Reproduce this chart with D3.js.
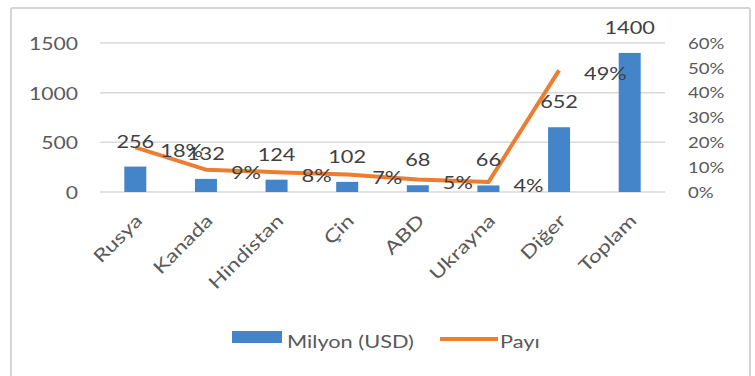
<!DOCTYPE html>
<html>
<head>
<meta charset="utf-8">
<script src="https://cdn.jsdelivr.net/npm/d3@7"></script>
<style>
  html, body { margin: 0; padding: 0; background: #ffffff; }
  svg { display: block; }
  text { font-family: Lato, "Open Sans", sans-serif; }
</style>
</head>
<body>
<svg id="chart" width="755" height="376"></svg>
<script>
// Categories and series
const categories = ["Rusya", "Kanada", "Hindistan", "Çin", "ABD", "Ukrayna", "Diğer", "Toplam"];
const milyonUSD = [256, 132, 124, 102, 68, 66, 652, 1400];
const payi = [0.18, 0.09, 0.08, 0.07, 0.05, 0.04, 0.49]; // no share point for "Toplam"
const leftTicks = [0, 500, 1000, 1500];
const rightTicks = [0, 0.1, 0.2, 0.3, 0.4, 0.5, 0.6];
const seriesNames = ["Milyon (USD)", "Payı"];

const BLUE = "#4385c8";
const ORANGE = "#ed7d31";
const GRID = "#d9d9d9";
const TEXT = "#595959";
const LABEL = "#404040";
const SX = 1.28; // horizontal widening of glyphs

const svg = d3.select("#chart");

// Outer chart frame
svg.append("rect")
  .attr("x", 11).attr("y", 8)
  .attr("width", 739).attr("height", 390)
  .attr("rx", 2)
  .attr("fill", "#fff")
  .attr("stroke", "#d4d4d4")
  .attr("stroke-width", 2);

const plot = { left: 100, right: 665, top: 43, bottom: 192 };

const x = d3.scaleBand().domain(categories).range([plot.left, plot.right]).padding(0);
const yL = d3.scaleLinear().domain([0, 1500]).range([plot.bottom, plot.top]);
const yR = d3.scaleLinear().domain([0, 0.6]).range([plot.bottom, plot.top]);
const barW = 22;

// Horizontal gridlines
svg.append("g")
  .selectAll("line")
  .data(leftTicks)
  .join("line")
  .attr("x1", plot.left).attr("x2", plot.right)
  .attr("y1", d => yL(d)).attr("y2", d => yL(d))
  .attr("stroke", GRID)
  .attr("stroke-width", 1.5);

// Left axis (values)
const leftAxis = svg.append("g")
  .attr("transform", `translate(${plot.left},0)`)
  .call(d3.axisLeft(yL).tickValues(leftTicks).tickSize(0).tickPadding(0).tickFormat(d3.format("d")));
leftAxis.select(".domain").remove();
leftAxis.selectAll(".tick text")
  .attr("x", 0).attr("dy", null)
  .attr("dominant-baseline", "central")
  .attr("text-anchor", "end")
  .attr("transform", `translate(-22,0) scale(${SX},1)`)
  .attr("fill", TEXT)
  .style("font-size", "16.5px");

// Right axis (share)
const rightAxis = svg.append("g")
  .attr("transform", `translate(${plot.right},0)`)
  .call(d3.axisRight(yR).tickValues(rightTicks).tickSize(0).tickPadding(0).tickFormat(d3.format(".0%")));
rightAxis.select(".domain").remove();
rightAxis.selectAll(".tick text")
  .attr("x", 0).attr("dy", null)
  .attr("dominant-baseline", "central")
  .attr("text-anchor", "start")
  .attr("transform", `translate(23,0) scale(${SX},1)`)
  .attr("fill", TEXT)
  .style("font-size", "14.5px");

// Bars
svg.append("g")
  .selectAll("rect")
  .data(milyonUSD)
  .join("rect")
  .attr("x", (d, i) => x(categories[i]) + x.bandwidth() / 2 - barW / 2)
  .attr("y", d => yL(d))
  .attr("width", barW)
  .attr("height", d => yL(0) - yL(d))
  .attr("fill", BLUE);

// Share line
const line = d3.line()
  .x((d, i) => x(categories[i]) + x.bandwidth() / 2)
  .y(d => yR(d));
svg.append("path")
  .datum(payi)
  .attr("d", line)
  .attr("fill", "none")
  .attr("stroke", ORANGE)
  .attr("stroke-width", 4)
  .attr("stroke-linejoin", "round");

// Bar value labels
svg.append("g")
  .selectAll("text")
  .data(milyonUSD)
  .join("text")
  .attr("transform", (d, i) => `translate(${x(categories[i]) + x.bandwidth() / 2},${yL(d) - 19}) scale(${SX},1)`)
  .attr("text-anchor", "middle")
  .attr("fill", LABEL)
  .style("font-size", "17px")
  .text(d => d);

// Share value labels, to the right of each point
svg.append("g")
  .selectAll("text")
  .data(payi)
  .join("text")
  .attr("transform", (d, i) => `translate(${x(categories[i]) + x.bandwidth() / 2 + 25},${yR(d) + 3}) scale(${SX},1)`)
  .attr("dominant-baseline", "central")
  .attr("text-anchor", "start")
  .attr("fill", LABEL)
  .style("font-size", "17px")
  .text(d => d3.format(".0%")(d));

// Category labels, rotated
svg.append("g")
  .selectAll("text")
  .data(categories)
  .join("text")
  .attr("transform", d => `translate(${x(d) + x.bandwidth() / 2 + 3},${plot.bottom + 25}) rotate(-45) scale(${SX},1)`)
  .attr("text-anchor", "end")
  .attr("dominant-baseline", "central")
  .attr("fill", TEXT)
  .style("font-size", "18px")
  .text(d => d);

// Legend
const legend = svg.append("g");
legend.append("rect")
  .attr("x", 232).attr("y", 331).attr("width", 50).attr("height", 12)
  .attr("fill", BLUE);
legend.append("text")
  .attr("transform", `translate(287,341) scale(${SX},1)`)
  .attr("dominant-baseline", "central")
  .attr("fill", TEXT)
  .style("font-size", "17px")
  .text(seriesNames[0]);
legend.append("line")
  .attr("x1", 440).attr("x2", 498).attr("y1", 339).attr("y2", 339)
  .attr("stroke", ORANGE).attr("stroke-width", 4);
legend.append("text")
  .attr("transform", `translate(500,341) scale(${SX},1)`)
  .attr("dominant-baseline", "central")
  .attr("fill", TEXT)
  .style("font-size", "17px")
  .text(seriesNames[1]);
</script>
</body>
</html>
